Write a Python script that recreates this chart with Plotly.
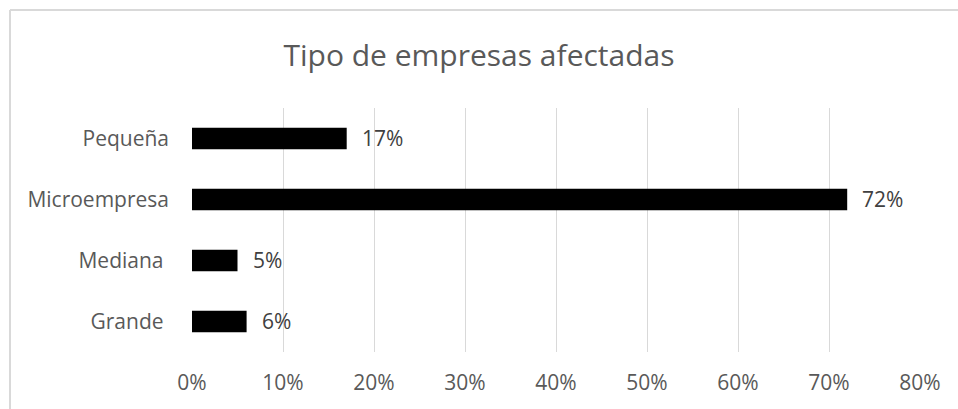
import plotly.graph_objects as go

categories = ["Pequeña", "Microempresa", "Mediana", "Grande"]
category_labels = ["Pequeña", "Microempresa", "Mediana\u00a0", "Grande\u00a0"]
values = [0.17, 0.72, 0.05, 0.06]
labels = ["17%", "72%", "5%", "6%"]
x_ticks = [0, 0.1, 0.2, 0.3, 0.4, 0.5, 0.6, 0.7, 0.8]
x_tick_labels = ["0%", "10%", "20%", "30%", "40%", "50%", "60%", "70%", "80%"]

FONT = "Open Sans"
fig = go.Figure(go.Bar(
    y=categories, x=values, orientation="h",
    marker=dict(color="#000000", line=dict(width=0)),
    width=0.35,
))

for c, v, t in zip(categories, values, labels):
    fig.add_annotation(x=v, y=c, text=t, showarrow=False, xanchor="left",
                       xshift=13, yshift=1,
                       font=dict(family=FONT, size=21, color="#404040"))

L, R, T, B = 192, 38, 108, 57
W, H = 958, 409
pw = W - L - R
ph = H - T - B
def px(x):
    return (x - L) / pw
def py(y):
    return (H - B - y) / ph

fig.update_layout(
    width=W, height=H,
    margin=dict(l=L, r=R, t=T, b=B),
    paper_bgcolor="white", plot_bgcolor="white",
    showlegend=False,
    title=dict(text="Tipo de empresas afectadas", x=0.5, xref="container", xanchor="center",
               y=1 - 55 / H, yanchor="middle",
               font=dict(family=FONT, size=30, color="#595959")),
    xaxis=dict(range=[0, 0.8], tickvals=x_ticks, ticktext=x_tick_labels,
               showgrid=True, gridcolor="#d9d9d9", gridwidth=1, zeroline=False,
               showline=False, ticks="", ticklabelstandoff=16,
               tickfont=dict(family=FONT, size=21, color="#595959"), fixedrange=True),
    yaxis=dict(categoryorder="array", categoryarray=categories, autorange="reversed",
               tickvals=categories, ticktext=category_labels,
               showgrid=False, zeroline=False, showline=False, ticks="",
               ticklabelstandoff=22,
               tickfont=dict(family=FONT, size=21, color="#595959")),
    shapes=[
        dict(type="line", xref="paper", yref="paper", x0=px(10), x1=px(10), y0=py(10), y1=py(420),
             line=dict(color="#d9d9d9", width=2)),
        dict(type="line", xref="paper", yref="paper", x0=px(10), x1=px(970), y0=py(10), y1=py(10),
             line=dict(color="#d9d9d9", width=2)),
    ],
    bargap=0.65,
)

fig.write_html("out.html", config={"displayModeBar": False},
               post_script="document.body.style.margin='0';document.body.style.overflow='hidden';")
